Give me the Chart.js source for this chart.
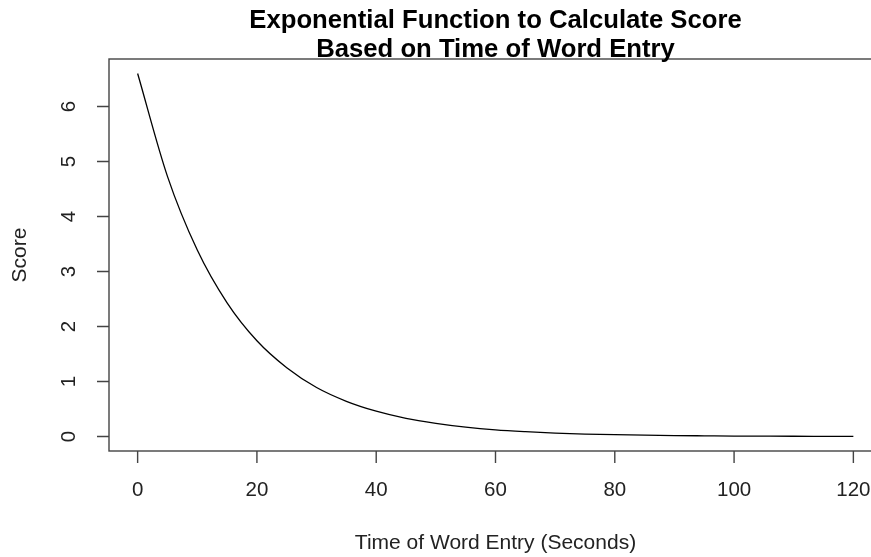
<!DOCTYPE html>
<html>
<head>
<meta charset="utf-8">
<script src="https://cdn.jsdelivr.net/npm/chart.js@4/dist/chart.umd.min.js"></script>
<style>
  html, body { margin: 0; padding: 0; background: #fff; overflow: hidden; }
  #wrap { position: absolute; left: 0; top: 0; width: 900px; height: 557px; }
</style>
</head>
<body>
<div id="wrap"><canvas id="scoreChart"></canvas></div>
<script>
// --- DADOS ---
const times = [0, 5, 10, 15, 20, 25, 30, 35, 40, 45, 50, 55, 60, 65, 70, 75, 80, 85, 90, 95, 100, 105, 110, 115, 120];
const scores = [6.60, 4.73, 3.39, 2.43, 1.74, 1.25, 0.89, 0.64, 0.46, 0.33, 0.24, 0.17, 0.12, 0.087, 0.062, 0.044, 0.032, 0.023, 0.016, 0.012, 0.008, 0.006, 0.004, 0.003, 0.002];
const xTicks = [0, 20, 40, 60, 80, 100, 120];
const yTicks = [0, 1, 2, 3, 4, 5, 6];

const titleLines = ['Exponential Function to Calculate Score', 'Based on Time of Word Entry'];
const xTitle = 'Time of Word Entry (Seconds)';
const yTitle = 'Score';

const FONT = '"Liberation Sans", Arial, sans-serif';
const AXIS_COLOR = '#444';

// desenha eixos estilo R (caixa, ticks, rótulos)
const rAxes = {
    id: 'rAxes',
    afterDraw(chart) {
        const ctx = chart.ctx;
        const a = chart.chartArea;
        const xs = chart.scales.x;
        const ys = chart.scales.y;
        ctx.save();
        ctx.strokeStyle = AXIS_COLOR;
        ctx.lineWidth = 1.4;
        ctx.strokeRect(a.left, a.top, a.right - a.left, a.bottom - a.top);

        ctx.fillStyle = '#222';
        ctx.font = '20.5px ' + FONT;

        // eixo x
        ctx.beginPath();
        xTicks.forEach(v => {
            const px = xs.getPixelForValue(v);
            ctx.moveTo(px, a.bottom);
            ctx.lineTo(px, a.bottom + 12);
        });
        ctx.stroke();
        ctx.textAlign = 'center';
        ctx.textBaseline = 'middle';
        xTicks.forEach(v => ctx.fillText(String(v), xs.getPixelForValue(v), a.bottom + 39));

        // eixo y
        ctx.beginPath();
        yTicks.forEach(v => {
            const py = ys.getPixelForValue(v);
            ctx.moveTo(a.left, py);
            ctx.lineTo(a.left - 12, py);
        });
        ctx.stroke();
        yTicks.forEach(v => {
            ctx.save();
            ctx.translate(a.left - 40, ys.getPixelForValue(v));
            ctx.rotate(-Math.PI / 2);
            ctx.fillText(String(v), 0, 0);
            ctx.restore();
        });

        const cx = (a.left + a.right) / 2;
        const cy = (a.top + a.bottom) / 2;

        // títulos dos eixos
        ctx.font = '21px ' + FONT;
        ctx.fillText(xTitle, cx, 543);
        ctx.save();
        ctx.translate(20, cy);
        ctx.rotate(-Math.PI / 2);
        ctx.fillText(yTitle, 0, 0);
        ctx.restore();

        // título principal
        ctx.fillStyle = '#000';
        ctx.font = 'bold 25.7px ' + FONT;
        ctx.fillText(titleLines[0], cx, 21);
        ctx.fillText(titleLines[1], cx, 50);
        ctx.restore();
    }
};

new Chart(document.getElementById('scoreChart').getContext('2d'), {
    type: 'line',
    data: {
        labels: times,
        datasets: [{
            label: 'Score',
            data: times.map((t, i) => ({ x: t, y: scores[i] })),
            borderColor: '#000',
            borderWidth: 1.3,
            pointRadius: 0,
            fill: false,
            cubicInterpolationMode: 'monotone'
        }]
    },
    options: {
        responsive: true,
        maintainAspectRatio: false,
        animation: false,
        layout: { padding: { left: 109, top: 59, right: 18, bottom: 106 } },
        plugins: { legend: { display: false }, tooltip: { enabled: false } },
        scales: {
            x: { type: 'linear', display: false, min: -4.8, max: 124.8 },
            y: { type: 'linear', display: false, min: -0.264, max: 6.864 }
        }
    },
    plugins: [rAxes]
});
</script>
</body>
</html>
